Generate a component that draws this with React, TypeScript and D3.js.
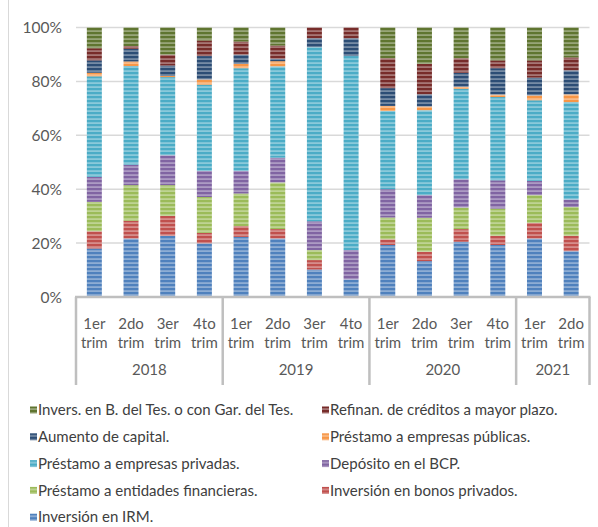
import React, { useEffect, useRef } from "react";
import * as d3 from "d3";

// quarters shown under each bar, grouped by year
const quarterLabels = ["1er trim", "2do trim", "3er trim", "4to trim", "1er trim", "2do trim", "3er trim", "4to trim", "1er trim", "2do trim", "3er trim", "4to trim", "1er trim", "2do trim"];
const years = ["2018", "2019", "2020", "2021"];
const quartersPerYear = [4, 4, 4, 2];
const yTicks = [0, 20, 40, 60, 80, 100];

// series, bottom to top (shares in %)
const seriesNames = [
  "Inversión en IRM.",
  "Inversión en bonos privados.",
  "Préstamo a entidades financieras.",
  "Depósito en el BCP.",
  "Préstamo a empresas privadas.",
  "Préstamo a empresas públicas.",
  "Aumento de capital.",
  "Refinan. de créditos a mayor plazo.",
  "Invers. en B. del Tes. o con Gar. del Tes.",
];
const irm = [18.0, 21.7, 22.7, 19.9, 22.3, 21.7, 10.2, 6.5, 19.3, 13.3, 20.5, 19.3, 21.7, 17.0];
const bonos = [6.4, 6.6, 7.4, 3.9, 4.0, 3.5, 3.5, 0, 2.1, 3.5, 4.7, 3.4, 5.8, 5.7];
const entidades = [10.9, 13.2, 11.4, 13.3, 12.1, 17.3, 3.7, 0, 8.1, 12.6, 8.0, 10.1, 10.3, 10.7];
const bcp = [9.3, 7.6, 11.1, 9.7, 8.4, 9.2, 10.7, 10.9, 10.5, 8.4, 10.5, 10.5, 5.3, 2.8];
const privadas = [37.3, 36.6, 29.0, 32.0, 38.1, 33.9, 64.6, 72.0, 29.0, 31.5, 33.6, 30.9, 29.9, 36.1];
const publicas = [1.3, 1.7, 0.4, 1.9, 1.6, 1.9, 0, 0, 1.9, 1.4, 0.7, 0.9, 1.8, 2.9];
const aumento = [4.6, 4.7, 3.9, 8.7, 3.4, 0.9, 3.3, 6.6, 6.6, 4.5, 5.2, 9.8, 6.6, 8.9];
const refinan = [4.5, 1.0, 4.0, 5.8, 4.9, 4.9, 4.0, 4.0, 11.1, 11.3, 5.4, 2.9, 6.4, 4.8];
const tesoro = [7.7, 6.9, 10.1, 4.8, 5.2, 6.7, 0, 0, 11.4, 13.5, 11.4, 12.2, 12.2, 11.1];

const seriesValues = [irm, bonos, entidades, bcp, privadas, publicas, aumento, refinan, tesoro];
const colors = ["#4f81bd", "#c0504d", "#9bbb59", "#8064a2", "#4bacc6", "#f79646", "#2c4d75", "#772c2a", "#5f7530"];

export default function App() {
  const ref = useRef<SVGSVGElement>(null);

  useEffect(() => {
    const svg = d3.select(ref.current);
    svg.selectAll("*").remove();

    const font = "Lato, 'Open Sans', sans-serif";
    const left = 76, right = 589.5, top = 27.5, bottom = 297;

    // striped fills like Excel's horizontal pattern
    const defs = svg.append("defs");
    colors.forEach((c, i) => {
      const light = d3.interpolateRgb(c, "#ffffff")(0.35);
      const p = defs.append("pattern")
        .attr("id", "pat" + i)
        .attr("patternUnits", "userSpaceOnUse")
        .attr("width", 4)
        .attr("height", 4);
      p.append("rect").attr("width", 4).attr("height", 4).attr("fill", light);
      p.append("rect").attr("width", 4).attr("height", 2.2).attr("fill", c);
    });

    // chart frame
    svg.append("line")
      .attr("x1", 8.5).attr("x2", 8.5).attr("y1", 0).attr("y2", 527)
      .attr("stroke", "#d9d9d9");

    const x = d3.scaleBand<number>()
      .domain(d3.range(quarterLabels.length))
      .range([left, right]);
    const y = d3.scaleLinear().domain([0, 100]).range([bottom, top]);

    // gridlines + y labels
    yTicks.forEach(t => {
      if (t > 0) {
        svg.append("line")
          .attr("x1", left).attr("x2", right)
          .attr("y1", y(t)).attr("y2", y(t))
          .attr("stroke", "#d9d9d9").attr("stroke-width", 1.5);
      }
      svg.append("text")
        .attr("x", 62).attr("y", y(t) + 5.5)
        .attr("text-anchor", "end")
        .attr("font-family", font).attr("font-size", 15.5)
        .attr("fill", "#595959")
        .text(t + "%");
    });

    const rows = quarterLabels.map((_, j) => {
      const r: any = { idx: j };
      seriesNames.forEach((s, i) => (r[s] = seriesValues[i][j]));
      return r;
    });
    const stacked = d3.stack().keys(seriesNames)(rows);

    const barW = 15;
    stacked.forEach((layer, i) => {
      svg.append("g")
        .selectAll("rect")
        .data(layer)
        .enter()
        .append("rect")
        .attr("x", (d: any, j) => (x(j) as number) + x.bandwidth() / 2 - barW / 2)
        .attr("y", d => y(d[1]))
        .attr("width", barW)
        .attr("height", d => Math.max(0, y(d[0]) - y(d[1])))
        .attr("fill", "url(#pat" + i + ")");
    });

    // category axis
    svg.append("line")
      .attr("x1", left - 1).attr("x2", right + 1)
      .attr("y1", bottom).attr("y2", bottom)
      .attr("stroke", "#bfbfbf").attr("stroke-width", 2.5);

    let start = 0;
    const bounds = [0];
    quartersPerYear.forEach(n => { start += n; bounds.push(start); });
    bounds.forEach(b => {
      const bx = b === quarterLabels.length ? right : (x(b) as number);
      svg.append("line")
        .attr("x1", bx).attr("x2", bx)
        .attr("y1", bottom).attr("y2", 385)
        .attr("stroke", "#bfbfbf").attr("stroke-width", 2.5);
    });

    quarterLabels.forEach((q, j) => {
      const cx = (x(j) as number) + x.bandwidth() / 2;
      const parts = q.split(" ");
      parts.forEach((p, k) => {
        svg.append("text")
          .attr("x", cx).attr("y", 328.5 + k * 19)
          .attr("text-anchor", "middle")
          .attr("font-family", font).attr("font-size", 15)
          .attr("fill", "#595959")
          .text(p);
      });
    });

    years.forEach((yr, i) => {
      const x0 = x(bounds[i]) as number;
      const x1 = bounds[i + 1] === quarterLabels.length ? right : (x(bounds[i + 1]) as number);
      svg.append("text")
        .attr("x", (x0 + x1) / 2).attr("y", 374.5)
        .attr("text-anchor", "middle")
        .attr("font-family", font).attr("font-size", 15)
        .attr("fill", "#595959")
        .text(yr);
    });

    // legend, two columns, top series first
    const legendOrder = d3.range(seriesNames.length).reverse();
    legendOrder.forEach((si, k) => {
      const col = k % 2, row = Math.floor(k / 2);
      const lx = col === 0 ? 30 : 322;
      const ly = 410 + row * 26.8;
      const g = svg.append("g").attr("transform", `translate(${lx},${ly})`);
      g.append("rect")
        .attr("x", 0).attr("y", -3.5).attr("width", 7).attr("height", 7)
        .attr("fill", "url(#pat" + si + ")");
      g.append("text")
        .attr("x", 8).attr("y", 5.2)
        .attr("font-family", font).attr("font-size", 15)
        .attr("fill", "#404040")
        .text(seriesNames[si]);
    });
  }, []);

  return (
    <div style={{ position: "absolute", left: 0, top: 0 }}>
      <svg ref={ref} width={598} height={527} style={{ display: "block", background: "#fff" }} />
    </div>
  );
}
